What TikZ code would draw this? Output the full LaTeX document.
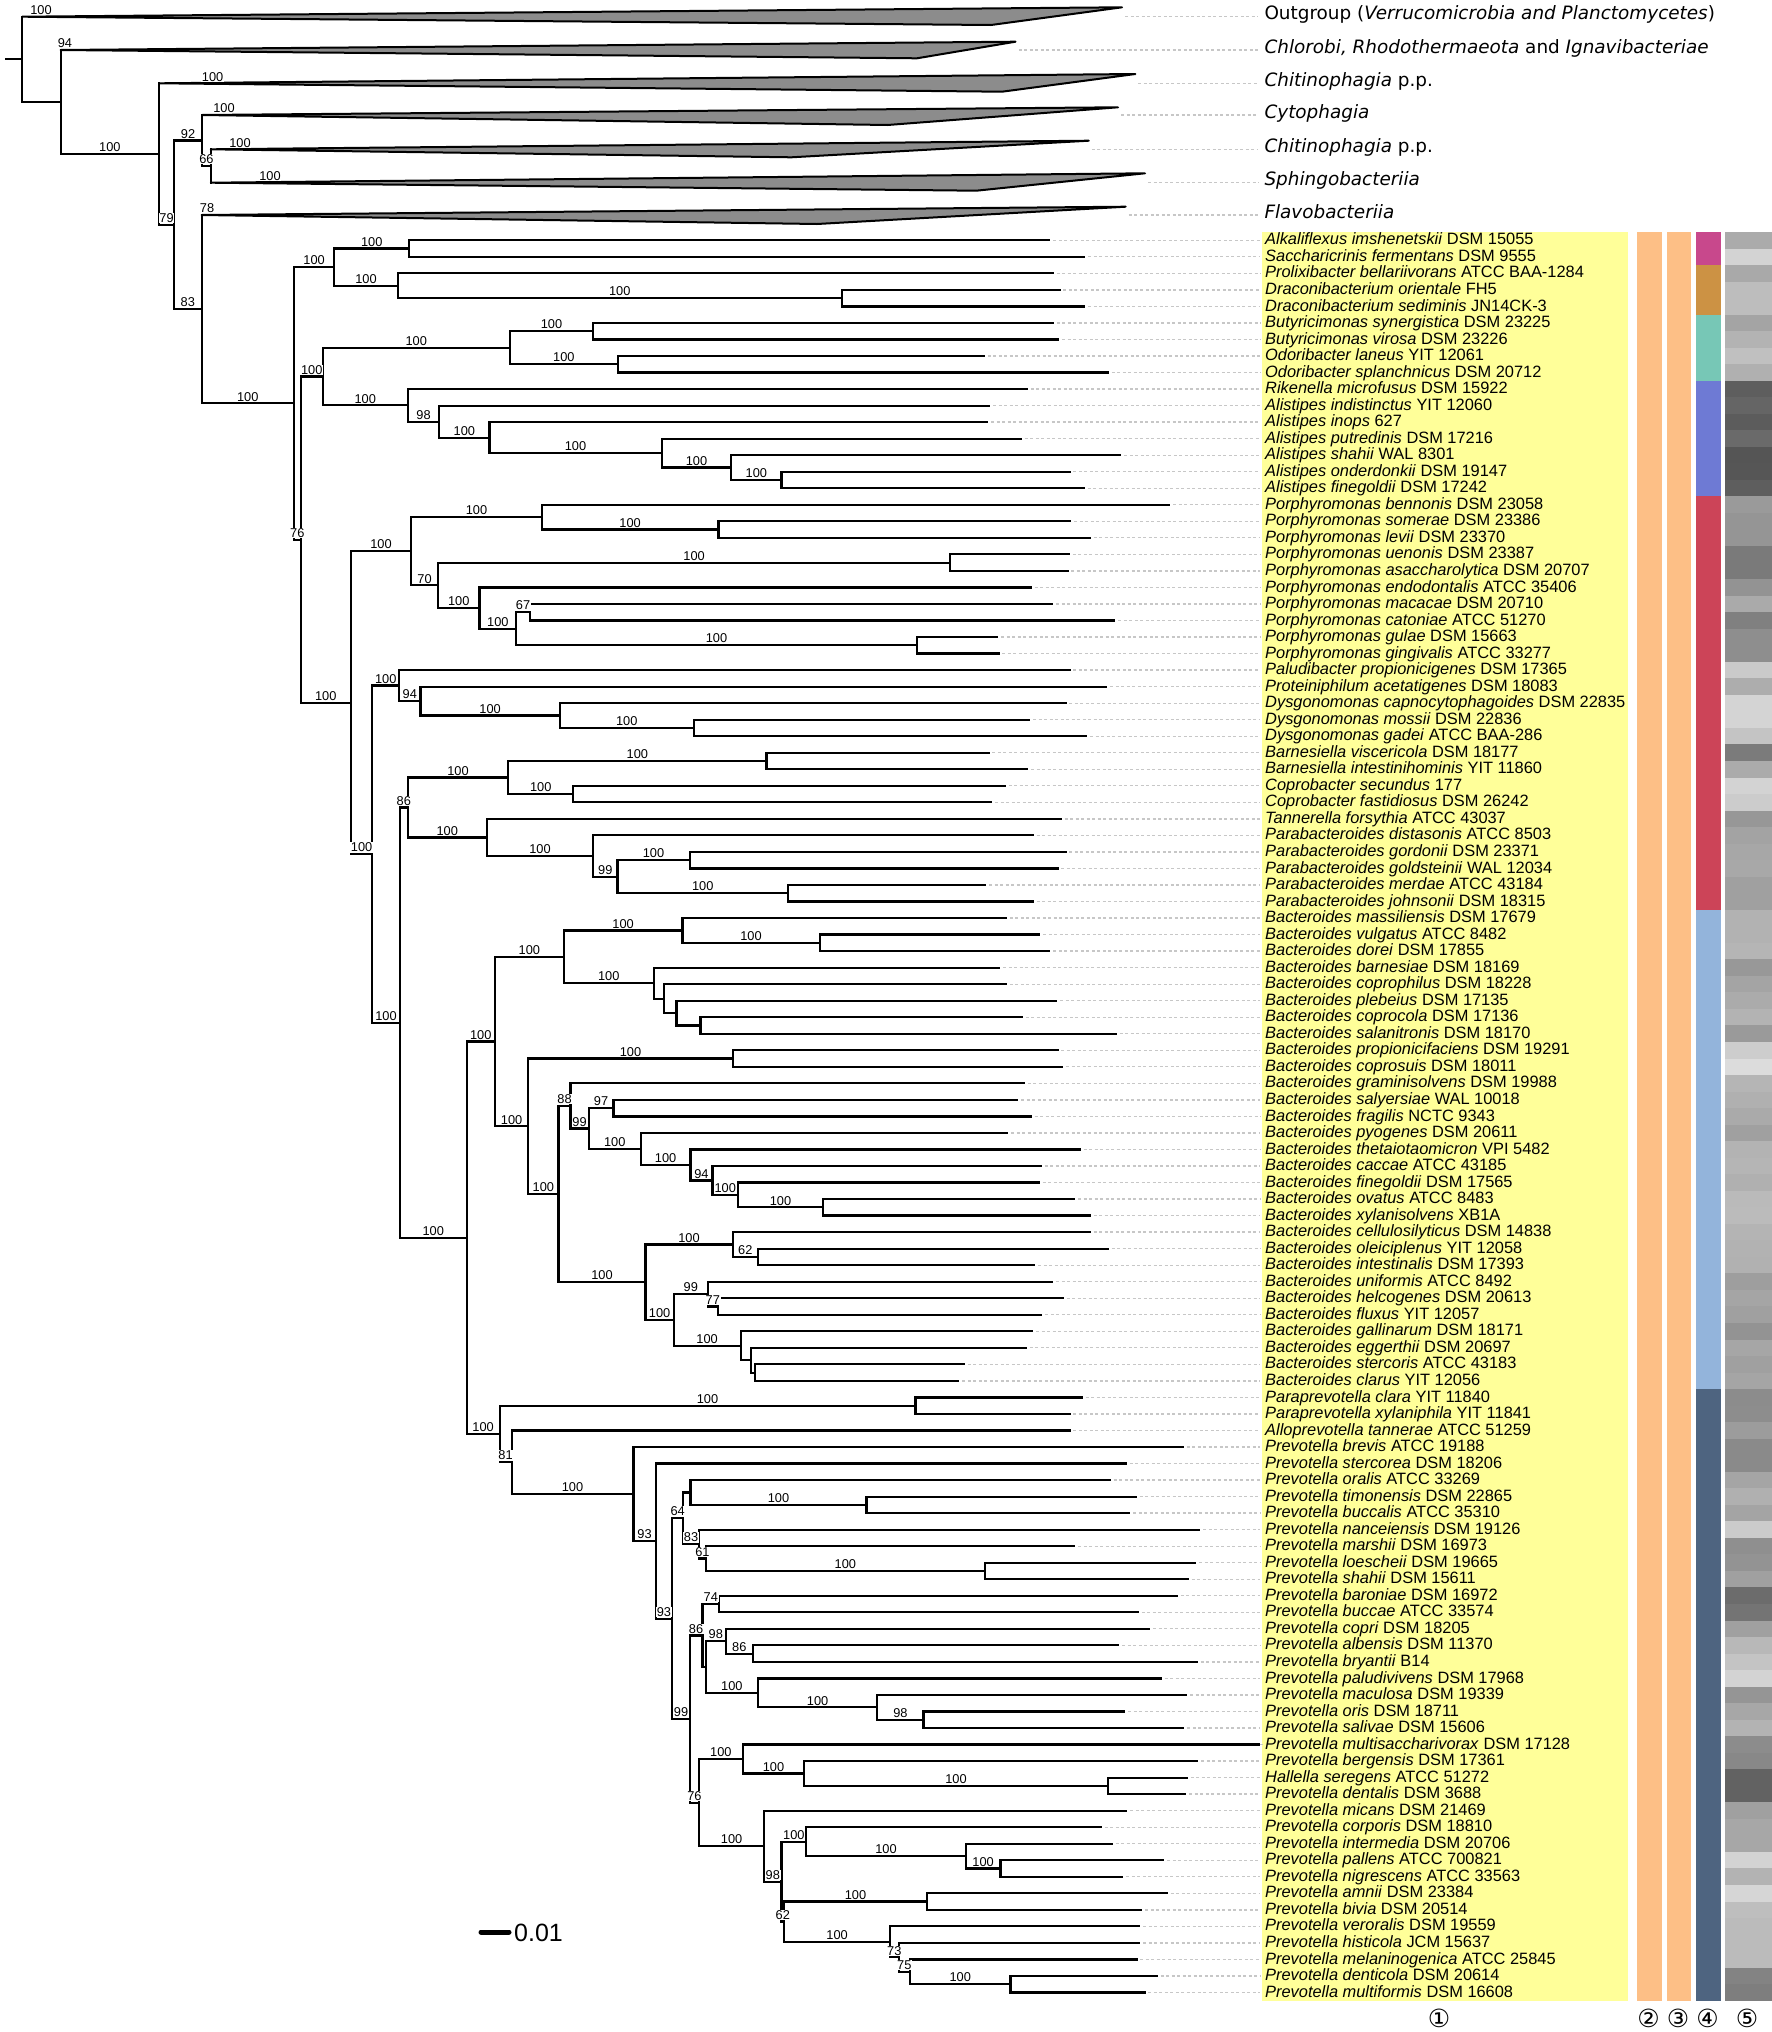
\documentclass[tikz,border=0pt]{standalone}
\usepackage{fontspec}
\setmainfont{Liberation Sans}
\newfontfamily\groupfont{DejaVu Sans}
\usetikzlibrary{calc}

\definecolor{labelbg}{RGB}{255,255,153}
\definecolor{orangebar}{RGB}{253,191,134}
\definecolor{wedgegray}{RGB}{140,140,140}
\definecolor{famA}{RGB}{200,72,140}
\definecolor{famB}{RGB}{204,146,68}
\definecolor{famC}{RGB}{119,199,182}
\definecolor{famD}{RGB}{110,122,212}
\definecolor{famE}{RGB}{204,68,88}
\definecolor{famF}{RGB}{147,180,219}
\definecolor{famG}{RGB}{78,100,128}

% leaf: index, tip x, label
\newcommand{\leaf}[3]{%
  \coordinate (l#1) at (#2,{240.3+(#1-1)*16.53});
  \node[taxon] (t#1) at (1265,{244.9+(#1-1)*16.53}) {#3};
  \draw[leader] ([xshift=4pt]l#1) -- ([xshift=-2pt]l#1 -| boxl);
}
% clade: name, x, upper child, lower child, support upper, support lower
\newcommand{\clade}[6]{%
  \path let \p1=(#3), \p2=(#4) in (#2pt,{(\y1+\y2)/2}) coordinate (#1);
  \draw[branch] (#3) -| (#1) |- (#4);
  \ifx&#5&\else
    \path let \p1=(#1), \p2=(#3) in ({(\x1+\x2)/2},{\y2+2.3pt}) node[boot] (s#3) {#5};
  \fi
  \ifx&#6&\else
    \path let \p1=(#1), \p2=(#4) in ({(\x1+\x2)/2},{\y2+2.3pt}) node[boot] (s#4) {#6};
  \fi
}
% collapsed clade: name, start, top tip, bottom tip, label
\newcommand{\wedgeclade}[5]{%
  \coordinate (#1) at (#2);
  \coordinate (#1top) at (#3);
  \coordinate (#1bot) at (#4);
  \filldraw[wedge] (#1) -- (#1top) -- (#1bot) -- cycle;
  \node[group] (#1lab) at ($(#1 -| boxl)+(2,3)$) {#5};
  \draw[leader] ($(#1 -| #1top)+(3,0)$) -- ($(#1 -| boxl)+(-4,0)$);
}

\begin{document}
\begin{tikzpicture}[x=1pt,y=-1pt,
  branch/.style={line width=2.2pt,line cap=rect,line join=miter},
  leader/.style={draw=black!22,line width=1.3pt,dash pattern=on 3pt off 2.5pt},
  taxon/.style={anchor=base west,inner sep=0pt,font=\fontsize{16.4}{18}\selectfont},
  boot/.style={anchor=base,fill=white,inner sep=0.6pt,font=\fontsize{12.8}{14}\selectfont},
  group/.style={anchor=base west,inner sep=0pt,font=\groupfont\fontsize{18.4}{20}\selectfont},
  wedge/.style={draw=black,line width=2pt,line join=round,fill=wedgegray},
  colnum/.style={inner sep=0pt,font=\groupfont\fontsize{25}{27}\selectfont}]

\useasboundingbox (0,0) rectangle (1772,2032);
\coordinate (boxl) at (1262.3,0);

% label panel and the four side columns
\fill[labelbg] (1262.3,231.7) rectangle (1628.3,2001);
\fill[orangebar] (1636.7,231.7) rectangle (1661.7,2001);
\fill[orangebar] (1666.7,231.7) rectangle (1690.7,2001);
\foreach \a/\b/\c in {1/2/famA,3/5/famB,6/9/famC,10/16/famD,17/41/famE,42/70/famF,71/107/famG}
  \fill[\c] (1695.7,{232+(\a-1)*16.53}) rectangle (1720.7,{232+\b*16.53});
\foreach \g [count=\k] in {171,211,169,189,189,164,179,192,176,94,101,92,106,85,86,94,154,149,149,122,
  122,147,170,128,142,142,202,173,212,212,196,123,171,211,204,151,163,167,168,160,
  160,178,178,181,152,164,171,179,154,205,220,181,176,170,160,179,181,176,186,187,
  180,178,177,158,165,160,147,166,160,165,140,141,156,138,138,165,176,164,203,143,
  147,160,108,116,160,184,196,211,149,167,179,140,136,98,98,160,167,167,211,179,
  214,190,187,187,187,131,126}{
  \definecolor{cellgray}{RGB}{\g,\g,\g}
  \fill[cellgray] (1725,{232+(\k-1)*16.53}) rectangle (1772,{232.3+\k*16.53});
}

% collapsed outgroup clades
\wedgeclade{cA}{22.2,16.7}{1122,7.3}{991,25}{Outgroup (\textit{Verrucomicrobia and Planctomycetes})}
\wedgeclade{cB}{60.7,50}{1015.5,41.7}{917,58.3}{\textit{Chlorobi, Rhodothermaeota} and \textit{Ignavibacteriae}}
\wedgeclade{cC}{159,83.3}{1135.4,74}{1002,91.7}{\textit{Chitinophagia} p.p.}
\wedgeclade{cD}{202,115}{1118,107.3}{887.6,125}{\textit{Cytophagia}}
\wedgeclade{cE}{210.8,149.3}{1088.8,140.7}{791.4,157.3}{\textit{Chitinophagia} p.p.}
\wedgeclade{cF}{210.8,182.7}{1145,173.3}{976.3,190.7}{\textit{Sphingobacteriia}}
\wedgeclade{cG}{201.6,215}{1125.7,206.7}{817,224}{\textit{Flavobacteriia}}

% leaves
\leaf{1}{1049.3}{\textit{Alkaliflexus imshenetskii} DSM 15055}
\leaf{2}{1084.2}{\textit{Saccharicrinis fermentans} DSM 9555}
\leaf{3}{1052.7}{\textit{Prolixibacter bellariivorans} ATCC BAA-1284}
\leaf{4}{1059.4}{\textit{Draconibacterium orientale} FH5}
\leaf{5}{1084.2}{\textit{Draconibacterium sediminis} JN14CK-3}
\leaf{6}{1052.7}{\textit{Butyricimonas synergistica} DSM 23225}
\leaf{7}{1058.1}{\textit{Butyricimonas virosa} DSM 23226}
\leaf{8}{983.7}{\textit{Odoribacter laneus} YIT 12061}
\leaf{9}{1107.6}{\textit{Odoribacter splanchnicus} DSM 20712}
\leaf{10}{1026.6}{\textit{Rikenella microfusus} DSM 15922}
\leaf{11}{989.1}{\textit{Alistipes indistinctus} YIT 12060}
\leaf{12}{987.1}{\textit{Alistipes inops} 627}
\leaf{13}{1020.6}{\textit{Alistipes putredinis} DSM 17216}
\leaf{14}{1120.3}{\textit{Alistipes shahii} WAL 8301}
\leaf{15}{1069.4}{\textit{Alistipes onderdonkii} DSM 19147}
\leaf{16}{1083.5}{\textit{Alistipes finegoldii} DSM 17242}
\leaf{17}{1169.2}{\textit{Porphyromonas bennonis} DSM 23058}
\leaf{18}{1070.1}{\textit{Porphyromonas somerae} DSM 23386}
\leaf{19}{1089.5}{\textit{Porphyromonas levii} DSM 23370}
\leaf{20}{1068.8}{\textit{Porphyromonas uenonis} DSM 23387}
\leaf{21}{1067.4}{\textit{Porphyromonas asaccharolytica} DSM 20707}
\leaf{22}{1030.6}{\textit{Porphyromonas endodontalis} ATCC 35406}
\leaf{23}{1052}{\textit{Porphyromonas macacae} DSM 20710}
\leaf{24}{1114.3}{\textit{Porphyromonas catoniae} ATCC 51270}
\leaf{25}{997.1}{\textit{Porphyromonas gulae} DSM 15663}
\leaf{26}{998.4}{\textit{Porphyromonas gingivalis} ATCC 33277}
\leaf{27}{1069.4}{\textit{Paludibacter propionicigenes} DSM 17365}
\leaf{28}{1106.3}{\textit{Proteiniphilum acetatigenes} DSM 18083}
\leaf{29}{1065.4}{\textit{Dysgonomonas capnocytophagoides} DSM 22835}
\leaf{30}{1029.2}{\textit{Dysgonomonas mossii} DSM 22836}
\leaf{31}{1086.2}{\textit{Dysgonomonas gadei} ATCC BAA-286}
\leaf{32}{988.4}{\textit{Barnesiella viscericola} DSM 18177}
\leaf{33}{1027.3}{\textit{Barnesiella intestinihominis} YIT 11860}
\leaf{34}{1004.5}{\textit{Coprobacter secundus} 177}
\leaf{35}{991.1}{\textit{Coprobacter fastidiosus} DSM 26242}
\leaf{36}{1060.7}{\textit{Tannerella forsythia} ATCC 43037}
\leaf{37}{1032.6}{\textit{Parabacteroides distasonis} ATCC 8503}
\leaf{38}{1065.4}{\textit{Parabacteroides gordonii} DSM 23371}
\leaf{39}{1057.4}{\textit{Parabacteroides goldsteinii} WAL 12034}
\leaf{40}{985}{\textit{Parabacteroides merdae} ATCC 43184}
\leaf{41}{1032.6}{\textit{Parabacteroides johnsonii} DSM 18315}
\leaf{42}{1005.8}{\textit{Bacteroides massiliensis} DSM 17679}
\leaf{43}{1039.3}{\textit{Bacteroides vulgatus} ATCC 8482}
\leaf{44}{1049.3}{\textit{Bacteroides dorei} DSM 17855}
\leaf{45}{999.1}{\textit{Bacteroides barnesiae} DSM 18169}
\leaf{46}{1005.8}{\textit{Bacteroides coprophilus} DSM 18228}
\leaf{47}{1056.1}{\textit{Bacteroides plebeius} DSM 17135}
\leaf{48}{1021.9}{\textit{Bacteroides coprocola} DSM 17136}
\leaf{49}{1115.6}{\textit{Bacteroides salanitronis} DSM 18170}
\leaf{50}{1057.4}{\textit{Bacteroides propionicifaciens} DSM 19291}
\leaf{51}{1062}{\textit{Bacteroides coprosuis} DSM 18011}
\leaf{52}{1023.9}{\textit{Bacteroides graminisolvens} DSM 19988}
\leaf{53}{1017.2}{\textit{Bacteroides salyersiae} WAL 10018}
\leaf{54}{1030.6}{\textit{Bacteroides fragilis} NCTC 9343}
\leaf{55}{1007.2}{\textit{Bacteroides pyogenes} DSM 20611}
\leaf{56}{1079.5}{\textit{Bacteroides thetaiotaomicron} VPI 5482}
\leaf{57}{1040.6}{\textit{Bacteroides caccae} ATCC 43185}
\leaf{58}{1038.6}{\textit{Bacteroides finegoldii} DSM 17565}
\leaf{59}{1074.1}{\textit{Bacteroides ovatus} ATCC 8483}
\leaf{60}{1089.5}{\textit{Bacteroides xylanisolvens} XB1A}
\leaf{61}{1089.5}{\textit{Bacteroides cellulosilyticus} DSM 14838}
\leaf{62}{1107.6}{\textit{Bacteroides oleiciplenus} YIT 12058}
\leaf{63}{1034}{\textit{Bacteroides intestinalis} DSM 17393}
\leaf{64}{1052}{\textit{Bacteroides uniformis} ATCC 8492}
\leaf{65}{1062.7}{\textit{Bacteroides helcogenes} DSM 20613}
\leaf{66}{1041.3}{\textit{Bacteroides fluxus} YIT 12057}
\leaf{67}{1032}{\textit{Bacteroides gallinarum} DSM 18171}
\leaf{68}{1025.9}{\textit{Bacteroides eggerthii} DSM 20697}
\leaf{69}{963.6}{\textit{Bacteroides stercoris} ATCC 43183}
\leaf{70}{958.3}{\textit{Bacteroides clarus} YIT 12056}
\leaf{71}{1081.5}{\textit{Paraprevotella clara} YIT 11840}
\leaf{72}{1069.4}{\textit{Paraprevotella xylaniphila} YIT 11841}
\leaf{73}{1069.4}{\textit{Alloprevotella tannerae} ATCC 51259}
\leaf{74}{1182.6}{\textit{Prevotella brevis} ATCC 19188}
\leaf{75}{1125.7}{\textit{Prevotella stercorea} DSM 18206}
\leaf{76}{1109.6}{\textit{Prevotella oralis} ATCC 33269}
\leaf{77}{1135.7}{\textit{Prevotella timonensis} DSM 22865}
\leaf{78}{1129}{\textit{Prevotella buccalis} ATCC 35310}
\leaf{79}{1199.3}{\textit{Prevotella nanceiensis} DSM 19126}
\leaf{80}{1074.1}{\textit{Prevotella marshii} DSM 16973}
\leaf{81}{1195}{\textit{Prevotella loescheii} DSM 19665}
\leaf{82}{1187.7}{\textit{Prevotella shahii} DSM 15611}
\leaf{83}{1176.7}{\textit{Prevotella baroniae} DSM 16972}
\leaf{84}{1137.7}{\textit{Prevotella buccae} ATCC 33574}
\leaf{85}{1149}{\textit{Prevotella copri} DSM 18205}
\leaf{86}{1118.3}{\textit{Prevotella albensis} DSM 11370}
\leaf{87}{1196.7}{\textit{Prevotella bryantii} B14}
\leaf{88}{1160.7}{\textit{Prevotella paludivivens} DSM 17968}
\leaf{89}{1186}{\textit{Prevotella maculosa} DSM 19339}
\leaf{90}{1124.3}{\textit{Prevotella oris} DSM 18711}
\leaf{91}{1183.3}{\textit{Prevotella salivae} DSM 15606}
\leaf{92}{1259}{\textit{Prevotella multisaccharivorax} DSM 17128}
\leaf{93}{1197.3}{\textit{Prevotella bergensis} DSM 17361}
\leaf{94}{1186.7}{\textit{Hallella seregens} ATCC 51272}
\leaf{95}{1185}{\textit{Prevotella dentalis} DSM 3688}
\leaf{96}{1126.3}{\textit{Prevotella micans} DSM 21469}
\leaf{97}{1100.9}{\textit{Prevotella corporis} DSM 18810}
\leaf{98}{1111.6}{\textit{Prevotella intermedia} DSM 20706}
\leaf{99}{1163.2}{\textit{Prevotella pallens} ATCC 700821}
\leaf{100}{1122.3}{\textit{Prevotella nigrescens} ATCC 33563}
\leaf{101}{1166.5}{\textit{Prevotella amnii} DSM 23384}
\leaf{102}{1141.1}{\textit{Prevotella bivia} DSM 20514}
\leaf{103}{1139}{\textit{Prevotella veroralis} DSM 19559}
\leaf{104}{1139}{\textit{Prevotella histicola} JCM 15637}
\leaf{105}{1136.4}{\textit{Prevotella melaninogenica} ATCC 25845}
\leaf{106}{1156.5}{\textit{Prevotella denticola} DSM 20614}
\leaf{107}{1144.4}{\textit{Prevotella multiformis} DSM 16608}

% Marinilabiliaceae, Rikenellaceae, Odoribacteraceae
\clade{n8a}{409.2}{l1}{l2}{}{}
\clade{n8c}{841.7}{l4}{l5}{}{}
\clade{n8b}{397.8}{l3}{n8c}{}{100}
\clade{n8}{334.2}{n8a}{n8b}{100}{100}
\clade{n10a1}{593.3}{l6}{l7}{}{}
\clade{n10a2}{618.1}{l8}{l9}{}{}
\clade{n10a}{509.6}{n10a1}{n10a2}{100}{100}
\clade{n10g}{781.5}{l15}{l16}{}{}
\clade{n10f}{731.3}{l14}{n10g}{}{100}
\clade{n10e}{661.6}{l13}{n10f}{}{100}
\clade{n10d}{489.5}{l12}{n10e}{}{100}
\clade{n10c}{439.3}{l11}{n10d}{}{100}
\clade{n10b}{407.8}{l10}{n10c}{}{98}
\clade{n10}{322.8}{n10a}{n10b}{100}{100}

% Porphyromonadaceae
\clade{n12b}{718.5}{l18}{l19}{}{}
\clade{n12a}{541.7}{l17}{n12b}{}{100}
\clade{n12d}{950.2}{l20}{l21}{}{}
\clade{n12g}{529.7}{l23}{l24}{}{}
\clade{n12h}{916.7}{l25}{l26}{}{}
\clade{n12f}{516.3}{n12g}{n12h}{67}{100}
\clade{n12e}{479.5}{l22}{n12f}{}{100}
\clade{n12c}{438}{n12d}{n12e}{100}{100}
\clade{n12}{411.2}{n12a}{n12c}{100}{70}
\clade{n13d}{693.8}{l30}{l31}{}{}
\clade{n13c}{559.8}{l29}{n13d}{}{100}
\clade{n13b}{420.5}{l28}{n13c}{}{100}
\clade{n13a}{399.1}{l27}{n13b}{}{94}
\clade{n14c}{766.4}{l32}{l33}{}{}
\clade{n14d}{573.2}{l34}{l35}{}{}
\clade{n14a}{508.3}{n14c}{n14d}{100}{100}
\clade{n14g}{689.7}{l38}{l39}{}{}
\clade{n14h}{788.2}{l40}{l41}{}{}
\clade{n14f}{617.4}{n14g}{n14h}{100}{100}
\clade{n14e}{593.3}{l37}{n14f}{}{99}
\clade{n14b}{486.8}{l36}{n14e}{}{100}
\clade{n14}{407.8}{n14a}{n14b}{100}{100}

% Bacteroidaceae
\clade{n17e}{819.7}{l43}{l44}{}{}
\clade{n17c}{682.4}{l42}{n17e}{}{100}
\clade{n17h}{700.5}{l48}{l49}{}{}
\clade{n17g}{676.4}{l47}{n17h}{}{}
\clade{n17f}{663.6}{l46}{n17g}{}{}
\clade{n17d}{653.6}{l45}{n17f}{}{}
\clade{n17a}{563.8}{n17c}{n17d}{100}{100}
\clade{n17i}{732.6}{l50}{l51}{}{}
\clade{n17n}{613.4}{l53}{l54}{}{}
\clade{n17s}{823}{l59}{l60}{}{}
\clade{n17r}{738}{l58}{n17s}{}{100}
\clade{n17q}{712.5}{l57}{n17r}{}{100}
\clade{n17p}{690.4}{l56}{n17q}{}{94}
\clade{n17o}{640.9}{l55}{n17p}{}{100}
\clade{n17m}{588.6}{n17n}{n17o}{97}{100}
\clade{n17k}{570.5}{l52}{n17m}{}{99}
\clade{n17v}{758}{l62}{l63}{}{}
\clade{n17t}{732.6}{l61}{n17v}{}{62}
\clade{n17y}{717.9}{l65}{l66}{}{}
\clade{n17w}{707.8}{l64}{n17y}{}{77}
\clade{n17aa}{754.7}{l69}{l70}{}{}
\clade{n17z}{750.7}{l68}{n17aa}{}{}
\clade{n17x}{740.6}{l67}{n17z}{}{}
\clade{n17u}{673.7}{n17w}{n17x}{99}{100}
\clade{n17l}{645.5}{n17t}{n17u}{100}{100}
\clade{n17j}{558.5}{n17k}{n17l}{88}{100}
\clade{n17b}{528.3}{n17i}{n17j}{100}{100}
\clade{n17}{494.9}{n17a}{n17b}{100}{100}

% Prevotellaceae
\clade{n18a}{915.4}{l71}{l72}{}{}
\clade{n22c}{866.5}{l77}{l78}{}{}
\clade{n22a}{690.4}{l76}{n22c}{}{100}
\clade{n22e}{985}{l81}{l82}{}{}
\clade{n22d}{705.8}{l80}{n22e}{}{100}
\clade{n22b}{699.1}{l79}{n22d}{}{61}
\clade{n22}{683}{n22a}{n22b}{}{83}
\clade{n24a}{719.2}{l83}{l84}{}{}
\clade{n24e}{752.7}{l86}{l87}{}{}
\clade{n24c}{725.9}{l85}{n24e}{}{86}
\clade{n24g}{923.5}{l90}{l91}{}{}
\clade{n24f}{877.3}{l89}{n24g}{}{98}
\clade{n24d}{758}{l88}{n24f}{}{100}
\clade{n24b}{705.8}{n24c}{n24d}{98}{100}
\clade{n24}{702.5}{n24a}{n24b}{74}{}
\clade{n25d}{1107.6}{l94}{l95}{}{}
\clade{n25c}{804.3}{l93}{n25d}{}{100}
\clade{n25a}{742.6}{l92}{n25c}{}{100}
\clade{n26d}{1000.5}{l99}{l100}{}{}
\clade{n26c}{965.6}{l98}{n26d}{}{100}
\clade{n26a}{806.3}{l97}{n26c}{}{100}
\clade{n26e}{926.8}{l101}{l102}{}{}
\clade{n26i}{1010.5}{l106}{l107}{}{}
\clade{n26h}{910}{l105}{n26i}{}{100}
\clade{n26g}{898.7}{l104}{n26h}{}{75}
\clade{n26f}{890}{l103}{n26g}{}{73}
\clade{n26b}{784.2}{n26e}{n26f}{100}{100}
\clade{n26}{781.5}{n26a}{n26b}{100}{62}
\clade{n25b}{764.1}{l96}{n26}{}{98}
\clade{n25}{699.1}{n25a}{n25b}{100}{100}
\clade{n23}{689.7}{n24}{n25}{86}{76}
\clade{n21}{672.3}{n22}{n23}{64}{99}
\clade{n20}{655.6}{l75}{n21}{}{93}
\clade{n19}{633.5}{l74}{n20}{}{93}
\clade{n18b}{511.6}{l73}{n19}{}{100}
\clade{n18}{499.6}{n18a}{n18b}{100}{81}

% backbone
\clade{n16}{466.7}{n17}{n18}{100}{100}
\clade{n15}{399.8}{n14}{n16}{86}{100}
\clade{n13}{372.3}{n13a}{n15}{100}{100}
\clade{n11}{350.9}{n12}{n13}{100}{100}
\clade{n9}{300.7}{n10}{n11}{100}{100}
\clade{n7}{294}{n8}{n9}{100}{76}
\clade{n6}{210.8}{cE}{cF}{}{}
\clade{n4}{202}{cD}{n6}{}{66}
\clade{n5}{201.6}{cG}{n7}{}{100}
\clade{n3}{174}{n4}{n5}{92}{83}
\clade{n2}{159}{cC}{n3}{}{79}
\clade{n1}{60.7}{cB}{n2}{}{100}
\clade{n0}{22.2}{cA}{n1}{}{}
\coordinate (rootstub) at (6,0);
\draw[branch] (n0) -- (n0 -| rootstub);

% supports of the collapsed clades
\node[boot] (sA) at (41,14.4) {100};
\node[boot] (sB) at (65,47.7) {94};
\node[boot] (sC) at (212.6,81) {100};
\node[boot] (sD) at (224,112.7) {100};
\node[boot] (sE) at (240,147) {100};
\node[boot] (sF) at (270,180.4) {100};
\node[boot] (sG) at (207,212.7) {78};

% scale bar
\coordinate (bar0) at (481,1932);
\coordinate (bar1) at (509,1932);
\draw[line width=5pt,line cap=round] (bar0) -- (bar1);
\node[anchor=base west,inner sep=0pt,font=\fontsize{25}{27}\selectfont] (scale) at (514,1941.7) {0.01};

% column numbers
\node[colnum] (num1) at (1439,2018) {①};
\node[colnum] (num2) at (1648.5,2018) {②};
\node[colnum] (num3) at (1678,2018) {③};
\node[colnum] (num4) at (1707.5,2018) {④};
\node[colnum] (num5) at (1747,2018) {⑤};
\end{tikzpicture}
\end{document}
